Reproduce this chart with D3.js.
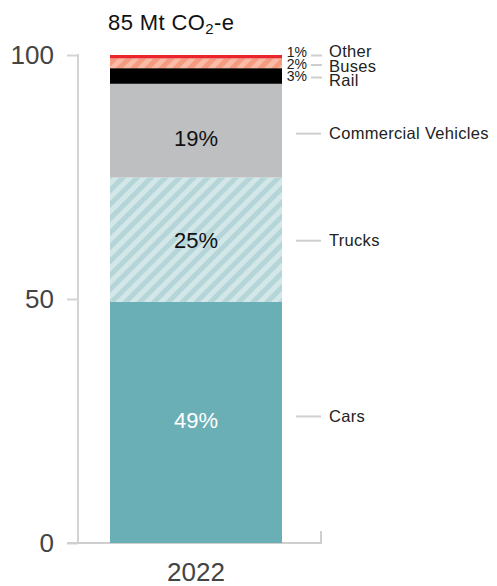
<!DOCTYPE html>
<meta charset="utf-8">
<style>
body { margin: 0; background: #fff; font-family: "Liberation Sans", Arial, sans-serif; }
.axis path, .axis line { stroke: #d4d4d4; stroke-width: 2; fill: none; }
.axis text { fill: #444; font-size: 26px; font-family: "Liberation Sans", Arial, sans-serif; }
.lead { stroke: #cfcfcf; stroke-width: 2; }
.lbl { font-size: 16.5px; fill: #222; letter-spacing: 0.3px; }
</style>
<body>
<script src="https://cdn.jsdelivr.net/npm/d3@7"></script>
<script>
// data
var year = ["2022"];
var sectors = ["Cars", "Trucks", "Commercial Vehicles", "Rail", "Buses", "Other"];
var shares = [49.4, 25.5, 19.2, 3.2, 2.0, 0.7];
var shareLabels = ["49%", "25%", "19%", "3%", "2%", "1%"];
var yTicks = [0, 50, 100];
var total = "85 Mt CO";

var W = 497, H = 586;
var svg = d3.select("body").append("svg")
    .attr("width", W)
    .attr("height", H);

var y = d3.scaleLinear().domain([0, 100]).range([543, 55]);
var x = d3.scaleBand().domain(year).range([110, 282]).padding(0);

// fills + hatch patterns
var defs = svg.append("defs");
function hatch(id, bg, fg) {
  var p = defs.append("pattern")
      .attr("id", id)
      .attr("patternUnits", "userSpaceOnUse")
      .attr("width", 10).attr("height", 10)
      .attr("patternTransform", "rotate(45)");
  p.append("rect").attr("width", 10).attr("height", 10).attr("fill", bg);
  p.append("rect").attr("width", 5).attr("height", 10).attr("fill", fg);
}
hatch("hTrucks", "#d3e6e8", "#b5d6d9");
hatch("hBuses", "#fbbba6", "#f59b7f");
var fills = ["#6bafb6", "url(#hTrucks)", "#bebfc1", "#000000", "url(#hBuses)", "#e8262b"];

// stack
var segs = [], acc = 0;
shares.forEach(function(v, i) {
  segs.push({ name: sectors[i], label: shareLabels[i], y0: acc, y1: acc + v, fill: fills[i], i: i });
  acc += v;
});

// y axis
var yAxis = svg.append("g")
    .attr("class", "axis")
    .attr("transform", "translate(78,0)")
    .call(d3.axisLeft(y).tickValues(yTicks).tickSize(11).tickSizeOuter(0).tickPadding(13));
yAxis.select(".domain").remove();
yAxis.append("line").attr("x1", 0).attr("x2", 0).attr("y1", y(100) - 1).attr("y2", y(0));

// baseline with end tick
svg.append("path")
    .attr("class", "lead")
    .attr("fill", "none")
    .attr("stroke", "#d4d4d4")
    .attr("d", "M67," + y(0) + "H321V" + (y(0) - 12));

// bars
svg.selectAll(".seg")
    .data(segs)
  .enter().append("rect")
    .attr("class", "seg")
    .attr("x", x("2022"))
    .attr("width", x.bandwidth())
    .attr("y", function(d) { return y(d.y1); })
    .attr("height", function(d) { return y(d.y0) - y(d.y1); })
    .attr("fill", function(d) { return d.fill; });

// labels inside the big segments
var innerShift = [-2, 1, 8];
svg.selectAll(".inner")
    .data(segs.filter(function(d) { return d.i < 3; }))
  .enter().append("text")
    .attr("x", x("2022") + x.bandwidth() / 2)
    .attr("y", function(d) { return y((d.y0 + d.y1) / 2) + innerShift[d.i]; })
    .attr("dy", "0.35em")
    .attr("text-anchor", "middle")
    .style("font-size", "22px")
    .attr("fill", function(d) { return d.i === 0 ? "#fff" : "#111"; })
    .text(function(d) { return d.label; });

// leader lines + sector names
var big = segs.filter(function(d) { return d.i < 3; });
var small = segs.filter(function(d) { return d.i >= 3; });
var bigShift = [-6, 1, 3];
var smallY = { "Rail": 77.5, "Buses": 65, "Other": 55.5 };
var nameY = { "Rail": 80.5, "Buses": 66, "Other": 51 };
var pctY = { "Rail": 76.5, "Buses": 64, "Other": 52 };

function ly(d) { return d.i < 3 ? y((d.y0 + d.y1) / 2) + bigShift[d.i] : smallY[d.name]; }

svg.selectAll(".ld")
    .data(big)
  .enter().append("line")
    .attr("class", "lead")
    .attr("x1", 296).attr("x2", 321)
    .attr("y1", ly).attr("y2", ly);

svg.selectAll(".ls")
    .data(small)
  .enter().append("line")
    .attr("class", "lead")
    .attr("x1", 311).attr("x2", 322)
    .attr("y1", ly).attr("y2", ly);

svg.selectAll(".nm")
    .data(segs)
  .enter().append("text")
    .attr("class", "lbl")
    .attr("x", 329)
    .attr("y", function(d) { return d.i >= 3 ? nameY[d.name] : ly(d); })
    .attr("dy", "0.35em")
    .text(function(d) { return d.name; });

svg.selectAll(".pc")
    .data(small)
  .enter().append("text")
    .attr("class", "lbl")
    .attr("x", 307)
    .attr("y", function(d) { return pctY[d.name]; })
    .attr("dy", "0.35em")
    .attr("text-anchor", "end")
    .style("font-size", "14px")
    .style("letter-spacing", "0")
    .text(function(d) { return d.label; });

// x label
svg.append("text")
    .attr("x", x("2022") + x.bandwidth() / 2)
    .attr("y", 581)
    .attr("text-anchor", "middle")
    .style("font-size", "26px")
    .attr("fill", "#444")
    .text(year[0]);

// title
var t = svg.append("text")
    .attr("x", 108)
    .attr("y", 30)
    .style("font-size", "22px")
    .style("letter-spacing", "0.4px")
    .attr("fill", "#111");
t.append("tspan").text(total);
t.append("tspan").attr("dy", 4).style("font-size", "15px").text("2");
t.append("tspan").attr("dy", -4).text("-e");
</script>
</body>
